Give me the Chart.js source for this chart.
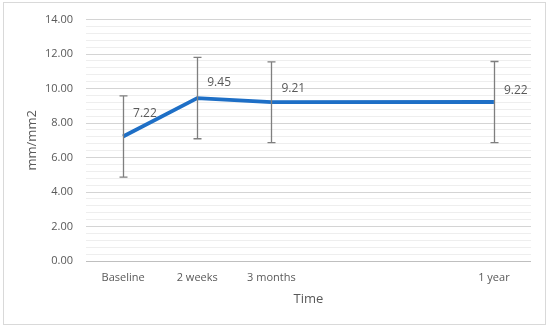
<!DOCTYPE html>
<html>
<head>
<meta charset="utf-8">
<script src="https://cdn.jsdelivr.net/npm/chart.js@4/dist/chart.umd.min.js"></script>
<style>
html,body{margin:0;padding:0;background:#fff;}
#wrap{width:550px;height:329px;position:relative;}
</style>
</head>
<body>
<div id="wrap"><canvas id="c" width="550" height="329"></canvas></div>
<script>
const categories = ['Baseline', '2 weeks', '3 months', '', '', '1 year'];
const meanValues = [7.22, 9.45, 9.21, null, null, 9.22];
const errorValues = [2.36, 2.36, 2.34, null, null, 2.35];
const yTitle = 'mm/mm2';
const xTitle = 'Time';

const FONT = "'Open Sans', Lato, 'Liberation Sans', sans-serif";

const borderPlugin = {
  id: 'outerBorder',
  beforeDraw(chart) {
    const ctx = chart.ctx;
    ctx.save();
    ctx.fillStyle = '#ffffff';
    ctx.fillRect(0, 0, chart.width, chart.height);
    ctx.strokeStyle = '#d9d9d9';
    ctx.lineWidth = 1;
    ctx.strokeRect(3.5, 2.5, 542, 322);
    ctx.restore();
  }
};

const errorBarPlugin = {
  id: 'errorBars',
  afterDatasetsDraw(chart) {
    const ctx = chart.ctx;
    const meta = chart.getDatasetMeta(0);
    const yScale = chart.scales.y;
    ctx.save();
    ctx.strokeStyle = '#7f7f7f';
    ctx.lineWidth = 1.3;
    meta.data.forEach((pt, i) => {
      const v = meanValues[i];
      const e = errorValues[i];
      if (v === null || e === null) return;
      const x = Math.round(pt.x) + 0.5;
      const yTop = yScale.getPixelForValue(v + e);
      const yBot = yScale.getPixelForValue(v - e);
      ctx.beginPath();
      ctx.moveTo(x, yTop); ctx.lineTo(x, yBot);
      ctx.moveTo(x - 4, yTop); ctx.lineTo(x + 4, yTop);
      ctx.moveTo(x - 4, yBot); ctx.lineTo(x + 4, yBot);
      ctx.stroke();
    });
    ctx.fillStyle = '#595959';
    ctx.font = '12px ' + FONT;
    ctx.textAlign = 'left';
    ctx.textBaseline = 'middle';
    const dy = [-23, -15, -14, 0, 0, -11];
    meta.data.forEach((pt, i) => {
      const v = meanValues[i];
      if (v === null) return;
      ctx.fillText(v.toFixed(2), pt.x + 10, pt.y + dy[i]);
    });
    ctx.restore();
  }
};

function isMajor(v) {
  return Math.abs(v / 2 - Math.round(v / 2)) < 1e-6;
}

new Chart(document.getElementById('c'), {
  type: 'line',
  data: {
    labels: categories,
    datasets: [{
      data: meanValues,
      borderColor: '#1e6fc6',
      borderWidth: 3.8,
      pointRadius: 0,
      pointHoverRadius: 0,
      spanGaps: true,
      tension: 0,
      fill: false
    }]
  },
  options: {
    responsive: false,
    animation: false,
    devicePixelRatio: 1,
    layout: { padding: { left: 20, right: 19, top: 19, bottom: 18 } },
    plugins: {
      legend: { display: false },
      tooltip: { enabled: false }
    },
    scales: {
      x: {
        type: 'category',
        offset: true,
        grid: { display: false, drawTicks: false },
        border: { display: false },
        ticks: {
          color: '#595959',
          font: { family: FONT, size: 11 },
          padding: 10,
          maxRotation: 0,
          autoSkip: false
        },
        title: {
          display: true,
          text: xTitle,
          color: '#595959',
          font: { family: FONT, size: 13 },
          padding: { top: 4, bottom: 4 }
        },
        afterFit(scale) { scale.height = 50; }
      },
      y: {
        min: 0,
        max: 14,
        ticks: {
          stepSize: 0.4,
          autoSkip: false,
          color: '#595959',
          font: { family: FONT, size: 11 },
          padding: 13,
          callback: (v) => isMajor(v) ? Number(v).toFixed(2) : ''
        },
        grid: {
          drawTicks: false,
          color: (ctx) => {
            const v = ctx.tick ? ctx.tick.value : 0;
            if (Math.abs(v) < 1e-6) return '#bfbfbf';
            return isMajor(v) ? '#d4d4d4' : '#eeeeee';
          },
          lineWidth: 1
        },
        border: { display: false },
        title: {
          display: true,
          text: yTitle,
          color: '#595959',
          font: { family: FONT, size: 13 },
          padding: { top: 4, bottom: 4 }
        },
        afterFit(scale) { scale.width = 66; }
      }
    }
  },
  plugins: [borderPlugin, errorBarPlugin]
});
</script>
</body>
</html>
